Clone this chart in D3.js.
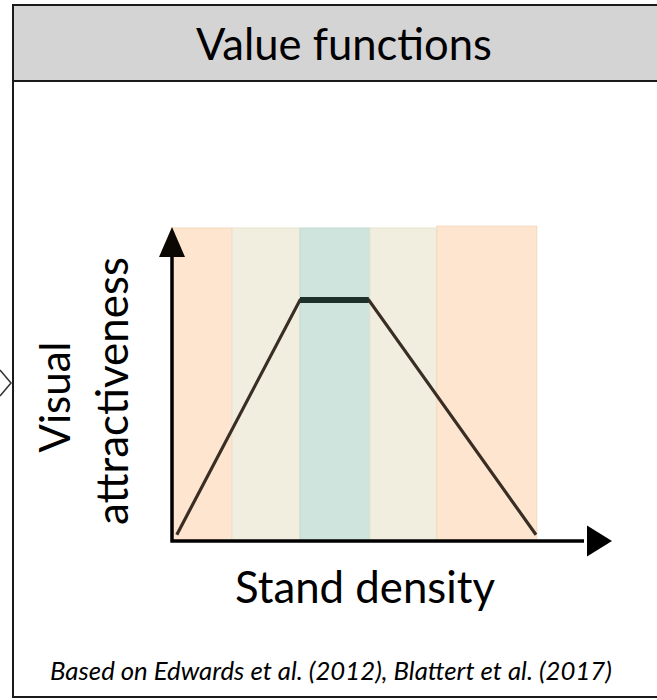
<!DOCTYPE html>
<html>
<head>
<meta charset="utf-8">
<script src="https://cdn.jsdelivr.net/npm/d3@7"></script>
<style>
  body { margin: 0; background: #fff; }
  svg text { font-family: Lato, "Liberation Sans", sans-serif; fill: #000; }
</style>
</head>
<body>
<script>
// stand density classes (shaded bands), in relative density units
var bandStart = [0, 1.5, 3.2, 4.95, 6.62];
var bandEnd   = [1.5, 3.2, 4.95, 6.62, 9.12];
var bandTop   = [1, 1, 1, 1, 1.006];

// value function: visual attractiveness vs stand density
var density = [0.12, 3.2, 4.92, 9.1];
var attractiveness = [0.02, 0.77, 0.77, 0.02];

var titleText = "Value functions";
var xLabel = "Stand density";
var yLabel = ["Visual", "attractiveness"];
var sourceText = "Based on Edwards et al. (2012), Blattert et al. (2017)";

var bandColors = ["#fde5cf", "#f1eee0", "#cee4dc", "#f1eee0", "#fde5cf"];
var bandStrokes = ["#f5d8bd", "#e9e3cf", "#c3dcd3", "#e9e3cf", "#f5d8bd"];

function plot_it() {
  var W = 657, H = 700;
  var svg = d3.select("body").append("svg")
      .attr("width", W)
      .attr("height", H);

  // scales
  var x = d3.scaleLinear().domain([0, 11]).range([172, 612]);
  var y = d3.scaleLinear().domain([0, 1]).range([541, 228]);

  // frame + header
  svg.append("rect")
      .attr("x", 13).attr("y", 5)
      .attr("width", 680).attr("height", 692)
      .attr("fill", "#fff")
      .attr("stroke", "#1a1a1a")
      .attr("stroke-width", 2);
  svg.append("rect")
      .attr("x", 13).attr("y", 5)
      .attr("width", 680).attr("height", 76)
      .attr("fill", "#d4d4d4")
      .attr("stroke", "#1a1a1a")
      .attr("stroke-width", 2);

  // little chevron poking in from the left
  svg.append("path")
      .attr("d", "M0,370 L11,383 L0,396")
      .attr("fill", "none")
      .attr("stroke", "#333")
      .attr("stroke-width", 1.5);

  // bands
  svg.append("g").selectAll("rect")
      .data(bandStart)
    .enter().append("rect")
      .attr("x", function(d) { return x(d); })
      .attr("y", function(d, i) { return y(bandTop[i]); })
      .attr("width", function(d, i) { return x(bandEnd[i]) - x(d); })
      .attr("height", function(d, i) { return y(0) - y(bandTop[i]); })
      .attr("fill", function(d, i) { return bandColors[i]; })
      .attr("stroke", function(d, i) { return bandStrokes[i]; })
      .attr("stroke-width", 1);

  // value function line
  var pts = density.map(function(d, i) { return [x(d), y(attractiveness[i])]; });
  var line = d3.line();
  svg.append("path")
      .attr("d", line(pts))
      .attr("fill", "none")
      .attr("stroke", "#3a2e24")
      .attr("stroke-width", 3.2)
      .attr("stroke-linejoin", "miter");
  // plateau (optimal range) drawn thicker
  svg.append("path")
      .attr("d", line(pts.slice(1, 3)))
      .attr("fill", "none")
      .attr("stroke", "#1d3029")
      .attr("stroke-width", 6);

  // axes with arrow heads
  var x0 = x(0), y0 = y(0), xEnd = x(11), yEnd = y(1) - 1;
  var ah = 30, aw = 13;
  svg.append("path")
      .attr("d", "M" + x0 + "," + (y0 + 1.5) + " L" + x0 + "," + (yEnd + ah)
          + " M" + (x0 - 1.5) + "," + y0 + " L" + (xEnd - ah + 2) + "," + y0)
      .attr("stroke", "#000")
      .attr("stroke-width", 3.5)
      .attr("fill", "none");
  svg.append("path")
      .attr("d", "M" + x0 + "," + yEnd + " L" + (x0 + aw) + "," + (yEnd + ah)
          + " L" + (x0 - aw) + "," + (yEnd + ah) + "Z")
      .attr("fill", "#0b0804");
  svg.append("path")
      .attr("d", "M" + xEnd + "," + y0 + " L" + (xEnd - ah + 5) + "," + (y0 - 15.5)
          + " L" + (xEnd - ah + 5) + "," + (y0 + 15.5) + "Z")
      .attr("fill", "#000");

  // size text to the widths in the original
  function fit(t, w) {
    var len = t.node().getComputedTextLength();
    var fs = parseFloat(t.attr("font-size"));
    t.attr("font-size", (fs * w / len).toFixed(2));
  }

  var title = svg.append("text")
      .attr("x", 344).attr("y", 60)
      .attr("text-anchor", "middle")
      .attr("font-size", 46)
      .text(titleText);
  fit(title, 296);

  var xl = svg.append("text")
      .attr("x", 365).attr("y", 603)
      .attr("text-anchor", "middle")
      .attr("font-size", 46)
      .text(xLabel);
  fit(xl, 260);

  var yl1 = svg.append("text")
      .attr("transform", "translate(70,397) rotate(-90)")
      .attr("text-anchor", "middle")
      .attr("font-size", 46)
      .text(yLabel[0]);
  fit(yl1, 111);
  var yl2 = svg.append("text")
      .attr("transform", "translate(128,391) rotate(-90)")
      .attr("text-anchor", "middle")
      .attr("font-size", 46)
      .text(yLabel[1]);
  fit(yl2, 268);

  var src = svg.append("text")
      .attr("x", 331).attr("y", 680)
      .attr("text-anchor", "middle")
      .attr("font-size", 22)
      .attr("font-style", "italic")
      .text(sourceText);
  fit(src, 562);
}

plot_it();
</script>
</body>
</html>
